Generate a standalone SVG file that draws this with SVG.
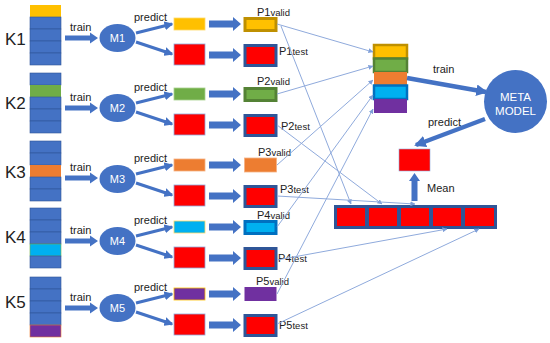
<svg xmlns="http://www.w3.org/2000/svg" width="550" height="343" viewBox="0 0 550 343">
<style>
text{font-family:"Liberation Sans",Arial,sans-serif;fill:#222}
.k{font-size:17px}
.s{font-size:11px}
.w{fill:#fff;font-size:11px}
.mw{fill:#fff;font-size:11.5px}
.cell{fill:#4472C4;stroke:#2F5597;stroke-width:0.6}
.mb{fill:#4472C4}
.red{fill:#FF0000;stroke:#8FAADC;stroke-width:0.8}
.pt{fill:#FF0000;stroke:#2F5597;stroke-width:3}
.thin{stroke:#8FAADC;stroke-width:1;fill:none;marker-end:url(#ah)}
.thick{stroke:#4472C4;stroke-width:3;fill:none;marker-end:url(#th)}
.big{stroke:#4472C4;stroke-width:4.5;fill:none;marker-end:url(#th2)}
</style>
<defs>
<marker id="ah" viewBox="0 0 6 6" refX="5.5" refY="3" markerWidth="5" markerHeight="5" markerUnits="userSpaceOnUse" orient="auto"><path d="M0,0L6,3L0,6z" fill="#7F9FD8"/></marker>
<marker id="th" viewBox="0 0 6 6" refX="5" refY="3" markerWidth="3" markerHeight="3" orient="auto"><path d="M0,0L6,3L0,6z" fill="#4472C4"/></marker>
<marker id="th2" viewBox="0 0 6 6" refX="5" refY="3" markerWidth="2.6" markerHeight="2.6" orient="auto"><path d="M0,0L6,3L0,6z" fill="#4472C4"/></marker>
<path id="tarr" d="M0,-2.5H25V-5.5L33,0L25,5.5V2.5H0z" fill="#4472C4"/>
<path id="parr" d="M0,-3.5H24V-7L32,0L24,7V3.5H0z" fill="#4472C4"/>
</defs>

<g id="fold-K1">
<text class="k" x="5" y="45">K1</text>
<rect x="30" y="5" width="31" height="12" fill="#FFC000"/>
<rect class="cell" x="30" y="17" width="31" height="12"/><rect class="cell" x="30" y="29" width="31" height="12"/><rect class="cell" x="30" y="41" width="31" height="12"/><rect class="cell" x="30" y="53" width="31" height="12"/>
</g>
<g id="fold-K2">
<text class="k" x="5" y="109">K2</text>
<rect class="cell" x="30" y="73" width="31" height="12"/>
<rect x="30" y="85" width="31" height="12" fill="#70AD47"/>
<rect class="cell" x="30" y="97" width="31" height="12"/><rect class="cell" x="30" y="109" width="31" height="12"/><rect class="cell" x="30" y="121" width="31" height="12"/>
</g>
<g id="fold-K3">
<text class="k" x="5" y="178">K3</text>
<rect class="cell" x="30" y="141" width="31" height="12"/><rect class="cell" x="30" y="153" width="31" height="12"/>
<rect x="30" y="165" width="31" height="12" fill="#ED7D31"/>
<rect class="cell" x="30" y="177" width="31" height="12"/><rect class="cell" x="30" y="189" width="31" height="12"/>
</g>
<g id="fold-K4">
<text class="k" x="5" y="243">K4</text>
<rect class="cell" x="30" y="208" width="31" height="12"/><rect class="cell" x="30" y="220" width="31" height="12"/><rect class="cell" x="30" y="232" width="31" height="12"/>
<rect x="30" y="244" width="31" height="12" fill="#00B0F0" stroke="#70AD47" stroke-width="0.6"/>
<rect class="cell" x="30" y="256" width="31" height="12"/>
</g>
<g id="fold-K5">
<text class="k" x="5" y="308">K5</text>
<rect class="cell" x="30" y="277" width="31" height="12"/><rect class="cell" x="30" y="289" width="31" height="12"/><rect class="cell" x="30" y="301" width="31" height="12"/><rect class="cell" x="30" y="313" width="31" height="12"/>
<rect x="30" y="325" width="31" height="12" fill="#7030A0" stroke="#ED7D31" stroke-width="0.6"/>
</g>

<g id="models">
<g id="M1"><ellipse class="mb" cx="117.5" cy="38" rx="18" ry="14"/><text class="w" x="117.5" y="42" text-anchor="middle">M1</text></g>
<g id="M2"><ellipse class="mb" cx="117.5" cy="108" rx="18" ry="14"/><text class="w" x="117.5" y="112" text-anchor="middle">M2</text></g>
<g id="M3"><ellipse class="mb" cx="117.5" cy="179" rx="18" ry="14"/><text class="w" x="117.5" y="183" text-anchor="middle">M3</text></g>
<g id="M4"><ellipse class="mb" cx="117.5" cy="241" rx="18" ry="14"/><text class="w" x="117.5" y="245" text-anchor="middle">M4</text></g>
<g id="M5"><ellipse class="mb" cx="117.5" cy="308" rx="18" ry="14"/><text class="w" x="117.5" y="312" text-anchor="middle">M5</text></g>
</g>

<g id="small-boxes">
<rect x="174" y="18" width="31" height="12" fill="#FFC000" stroke="#FFD966" stroke-width="0.8"/>
<rect class="red" x="174" y="44" width="31" height="21"/>
<rect x="174" y="88" width="31" height="12" fill="#70AD47" stroke="#A9D18E" stroke-width="0.8"/>
<rect class="red" x="174" y="114" width="31" height="21"/>
<rect x="174" y="159" width="31" height="12" fill="#ED7D31" stroke="#F4B183" stroke-width="0.8"/>
<rect class="red" x="174" y="185" width="31" height="21"/>
<rect x="174" y="221" width="31" height="12" fill="#00B0F0" stroke="#FFD966" stroke-width="0.8"/>
<rect class="red" x="174" y="247" width="31" height="21"/>
<rect x="174" y="288" width="31" height="12" fill="#7030A0" stroke="#FFC000" stroke-width="0.8"/>
<rect class="red" x="174" y="314" width="31" height="21"/>
</g>

<g id="P1">
<rect x="245" y="18.5" width="31" height="12" fill="#FFC000" stroke="#BF9000" stroke-width="3"/>
<rect class="pt" x="245" y="45.5" width="31" height="20"/>
<text x="257" y="16"><tspan class="s">P1</tspan><tspan font-size="9.5">valid</tspan></text>
<text x="279" y="55"><tspan class="s">P1</tspan><tspan font-size="9.5">test</tspan></text>
</g>
<g id="P2">
<rect x="245" y="88.5" width="31" height="12" fill="#70AD47" stroke="#548235" stroke-width="3"/>
<rect class="pt" x="245" y="115.5" width="31" height="20"/>
<text x="257" y="85"><tspan class="s">P2</tspan><tspan font-size="9.5">valid</tspan></text>
<text x="281" y="130"><tspan class="s">P2</tspan><tspan font-size="9.5">test</tspan></text>
</g>
<g id="P3">
<rect x="244.5" y="158" width="32" height="14" fill="#ED7D31" stroke="#F4B183" stroke-width="0.8"/>
<rect class="pt" x="245" y="186.5" width="31" height="20"/>
<text x="258" y="156"><tspan class="s">P3</tspan><tspan font-size="9.5">valid</tspan></text>
<text x="280" y="193"><tspan class="s">P3</tspan><tspan font-size="9.5">test</tspan></text>
</g>
<g id="P4">
<rect x="245" y="221.5" width="31" height="12" fill="#00B0F0" stroke="#0070C0" stroke-width="3"/>
<rect class="pt" x="245" y="248.5" width="31" height="20"/>
<text x="257" y="219"><tspan class="s">P4</tspan><tspan font-size="9.5">valid</tspan></text>
<text x="278" y="262"><tspan class="s">P4</tspan><tspan font-size="9.5">test</tspan></text>
</g>
<g id="P5">
<rect x="244.5" y="287" width="32" height="14" fill="#7030A0"/>
<rect class="pt" x="245" y="315.5" width="31" height="20"/>
<text x="256" y="285"><tspan class="s">P5</tspan><tspan font-size="9.5">valid</tspan></text>
<text x="279" y="329"><tspan class="s">P5</tspan><tspan font-size="9.5">test</tspan></text>
</g>

<g id="valid-stack">
<rect x="374" y="45" width="33" height="13.5" fill="#FFC000" stroke="#BF9000" stroke-width="2.5"/>
<rect x="374" y="58.5" width="33" height="13.5" fill="#70AD47" stroke="#548235" stroke-width="2.5"/>
<rect x="374" y="72" width="33" height="13.5" fill="#ED7D31"/>
<rect x="374" y="85.5" width="33" height="13.5" fill="#00B0F0" stroke="#0070C0" stroke-width="2.5"/>
<rect x="374" y="99" width="33" height="14" fill="#7030A0"/>
</g>

<g id="meta-model">
<circle cx="515.5" cy="101.5" r="31.5" fill="#4472C4"/>
<text class="mw" x="515.5" y="101" text-anchor="middle">META</text>
<text class="mw" x="515.5" y="115" text-anchor="middle">MODEL</text>
</g>

<g id="mean-box"><rect x="399" y="149" width="31" height="22" fill="#FF0000" stroke="#8FAADC" stroke-width="0.6"/></g>

<g id="test-bar">
<rect x="334" y="205" width="163" height="24" fill="#2F5597"/>
<rect x="337" y="208" width="28" height="18" fill="#FF0000"/>
<rect x="369" y="208" width="28" height="18" fill="#FF0000"/>
<rect x="401" y="208" width="28" height="18" fill="#FF0000"/>
<rect x="433" y="208" width="28" height="18" fill="#FF0000"/>
<rect x="465" y="208" width="29" height="18" fill="#FF0000"/>
</g>

<g id="connectors">
<use href="#tarr" x="65" y="38"/><use href="#tarr" x="65" y="108"/><use href="#tarr" x="65" y="178"/><use href="#tarr" x="65" y="241"/><use href="#tarr" x="65" y="308"/>
<text class="s" x="70" y="31">train</text><text class="s" x="70" y="101">train</text><text class="s" x="70" y="171">train</text><text class="s" x="70" y="234">train</text><text class="s" x="70" y="301">train</text>

<line class="thick" x1="136" y1="33" x2="172" y2="24"/><line class="thick" x1="136" y1="42" x2="172" y2="54"/>
<line class="thick" x1="136" y1="103" x2="172" y2="94"/><line class="thick" x1="136" y1="112" x2="172" y2="124"/>
<line class="thick" x1="136" y1="174" x2="172" y2="165"/><line class="thick" x1="136" y1="183" x2="172" y2="195"/>
<line class="thick" x1="136" y1="236" x2="172" y2="227"/><line class="thick" x1="136" y1="245" x2="172" y2="257"/>
<line class="thick" x1="136" y1="303" x2="172" y2="294"/><line class="thick" x1="136" y1="312" x2="172" y2="324"/>
<text class="s" x="134" y="21">predict</text><text class="s" x="134" y="91">predict</text><text class="s" x="134" y="162">predict</text><text class="s" x="134" y="224">predict</text><text class="s" x="134" y="291">predict</text>

<use href="#parr" x="209" y="24"/><use href="#parr" x="209" y="55"/>
<use href="#parr" x="209" y="94"/><use href="#parr" x="209" y="125"/>
<use href="#parr" x="209" y="165"/><use href="#parr" x="209" y="196"/>
<use href="#parr" x="209" y="227"/><use href="#parr" x="209" y="258"/>
<use href="#parr" x="209" y="294"/><use href="#parr" x="209" y="325"/>

<line class="thin" x1="277" y1="24" x2="373" y2="52"/>
<line class="thin" x1="277" y1="94" x2="373" y2="66"/>
<line class="thin" x1="277" y1="165" x2="373" y2="80"/>
<line class="thin" x1="277" y1="227" x2="373" y2="95"/>
<line class="thin" x1="277" y1="294" x2="373" y2="109"/>
<line class="thin" x1="281" y1="26" x2="351" y2="204"/>
<line class="thin" x1="277" y1="125" x2="382" y2="204"/>
<line class="thin" x1="277" y1="196" x2="415" y2="204"/>
<line class="thin" x1="277" y1="260" x2="447" y2="229"/>
<line class="thin" x1="277" y1="324" x2="479" y2="229"/>

<line class="big" x1="407" y1="78" x2="486" y2="92"/>
<text class="s" x="433" y="73">train</text>
<line class="big" x1="485" y1="119" x2="416" y2="145"/>
<text class="s" x="428" y="126">predict</text>
<path d="M411.5,201V181H409L414.5,173L420,181H417.5V201z" fill="#4472C4"/>
<text class="s" x="427" y="192">Mean</text>
</g>
</svg>
